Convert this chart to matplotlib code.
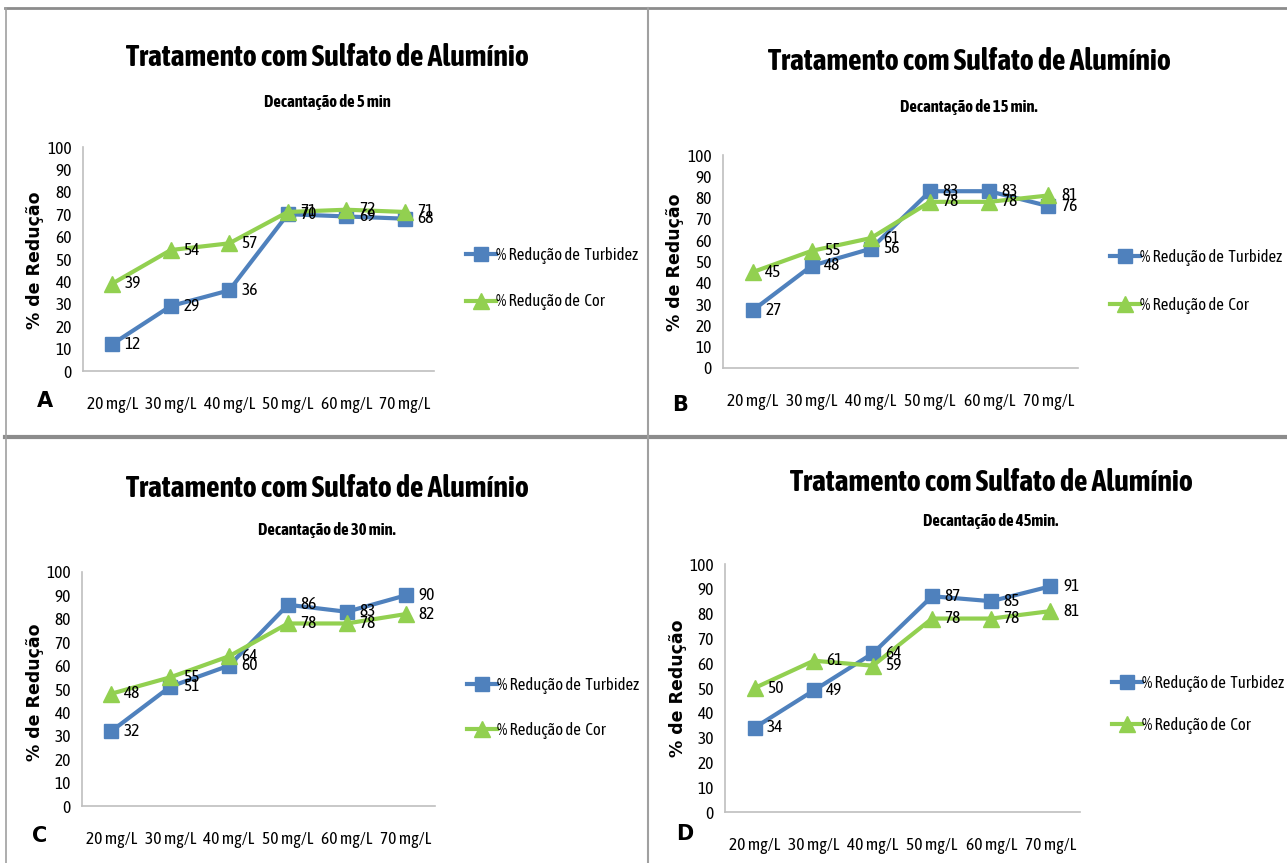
import matplotlib
matplotlib.use("Agg")
import matplotlib.pyplot as plt
from matplotlib.lines import Line2D

# doses tested and % reduction per settling time
doses = ['20 mg/L', '30 mg/L', '40 mg/L', '50 mg/L', '60 mg/L', '70 mg/L']

turb_5 = [12, 29, 36, 70, 69, 68]
cor_5 = [39, 54, 57, 71, 72, 71]

turb_15 = [27, 48, 56, 83, 83, 76]
cor_15 = [45, 55, 61, 78, 78, 81]

turb_30 = [32, 51, 60, 86, 83, 90]
cor_30 = [48, 55, 64, 78, 78, 82]

turb_45 = [34, 49, 64, 87, 85, 91]
cor_45 = [50, 61, 59, 78, 78, 81]

subtitles = ['Decantação de 5 min', 'Decantação de 15 min.',
             'Decantação de 30 min.', 'Decantação de 45min.']
letters = ['A', 'B', 'C', 'D']

W, H = 1287, 863
BLUE = '#4F81BD'
GREEN = '#92D050'
NARROW = ['Asap Condensed', 'DejaVu Sans']

fig = plt.figure(figsize=(W / 100, H / 100), dpi=100)


def fx(x):
    return x / W


def fy(y):
    return 1 - y / H


# panel layout in pixels: axes box, title y, subtitle y, legend, ylabel x, letter
panels = [
    dict(box=(83, 147, 434, 371), cx=327, ty=58, sy=102, lx=458, ly=(255, 302),
         yl=(35, 260), let=(45, 401), turb=turb_5, cor=cor_5),
    dict(box=(723, 155, 1078, 368), cx=969, ty=61, sy=107, lx=1102, ly=(257, 305),
         yl=(675, 262), let=(680, 405), turb=turb_15, cor=cor_15),
    dict(box=(82, 572, 435, 806), cx=327, ty=488, sy=530, lx=459, ly=(685, 730),
         yl=(35, 692), let=(40, 836), turb=turb_30, cor=cor_30),
    dict(box=(725, 564, 1080, 812), cx=991, ty=482, sy=521, lx=1104, ly=(683, 725),
         yl=(678, 688), let=(685, 834), turb=turb_45, cor=cor_45),
]

x = list(range(len(doses)))

for i, p in enumerate(panels):
    x0, y0, x1, y1 = p['box']
    ax = fig.add_axes([fx(x0), fy(y1), (x1 - x0) / W, (y1 - y0) / H])
    lt, = ax.plot(x, p['turb'], color=BLUE, lw=3, marker='s', ms=10,
                  label='% Redução de  Turbidez')
    lc, = ax.plot(x, p['cor'], color=GREEN, lw=3, marker='^', ms=11,
                  label='% Redução de  Cor')
    for xi, v in zip(x, p['turb']):
        ax.annotate(str(v), (xi, v), xytext=(9, 0), textcoords='offset points',
                    ha='left', va='center', fontsize=12.5, family=NARROW)
    for xi, v in zip(x, p['cor']):
        ax.annotate(str(v), (xi, v), xytext=(9, 0), textcoords='offset points',
                    ha='left', va='center', fontsize=12.5, family=NARROW)

    ax.set_xlim(-0.5, 5.5)
    ax.set_ylim(0, 100)
    ax.set_yticks(range(0, 101, 10))
    ax.set_xticks(x)
    ax.set_xticklabels(doses)
    for lab in ax.get_xticklabels() + ax.get_yticklabels():
        lab.set_family(NARROW)
        lab.set_fontsize(12.5)
    ax.tick_params(axis='x', length=0, pad=18)
    ax.tick_params(axis='y', length=0, pad=8)
    for s in ['top', 'right']:
        ax.spines[s].set_visible(False)
    for s in ['left', 'bottom']:
        ax.spines[s].set_color('#BFBFBF')
        ax.spines[s].set_linewidth(1.2)

    # legend entries
    for line, ly in zip([lt, lc], p['ly']):
        fig.legend([line], [line.get_label()], loc='center left',
                   bbox_to_anchor=(fx(p['lx']), fy(ly)), frameon=False,
                   borderpad=0, handlelength=1.8, handletextpad=0.0,
                   prop={'family': NARROW, 'size': 12})

    fig.text(fx(p['cx']), fy(p['ty']), 'Tratamento com Sulfato de Alumínio',
             ha='center', va='center', fontsize=21.5, fontweight='bold', family=NARROW)
    fig.text(fx(p['cx']), fy(p['sy']), subtitles[i], ha='center', va='center',
             fontsize=12, fontweight='bold', family=NARROW)
    fig.text(fx(p['yl'][0]), fy(p['yl'][1]), '% de Redução', rotation=90,
             ha='center', va='center', fontsize=12.5, fontweight='bold')
    fig.text(fx(p['let'][0]), fy(p['let'][1]), letters[i], ha='center', va='center',
             fontsize=15, fontweight='bold')

# gray frame lines between the panels
GRAY = '#8C8C8C'
fig.add_artist(Line2D([fx(5), 1], [fy(8), fy(8)], color=GRAY, lw=2))
fig.add_artist(Line2D([fx(5), 1], [fy(437), fy(437)], color=GRAY, lw=3))
fig.add_artist(Line2D([fx(6), fx(6)], [fy(8), 0], color='#A0A0A0', lw=1.2))
fig.add_artist(Line2D([fx(648), fx(648)], [fy(8), 0], color='#A0A0A0', lw=1.5))

fig.savefig('out.png', dpi=100)
